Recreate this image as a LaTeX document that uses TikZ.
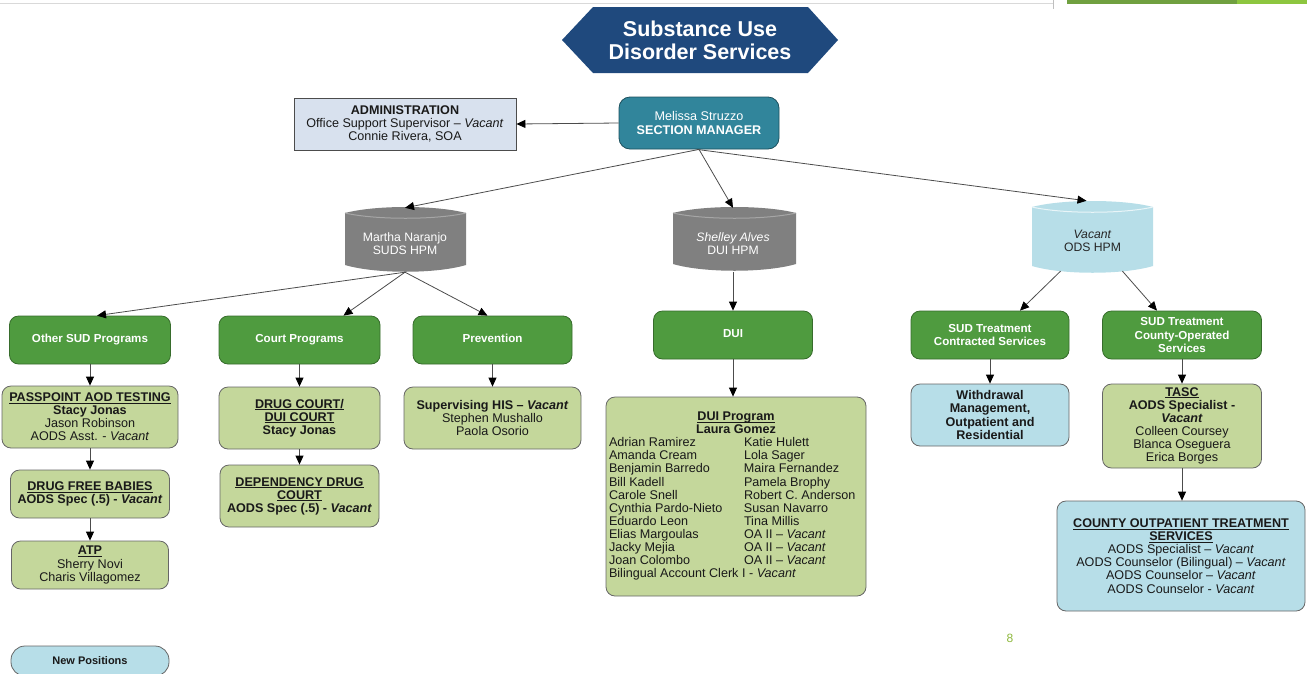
\documentclass[tikz,border=0pt]{standalone}
\usepackage{fontspec}
\setmainfont{Liberation Sans}
\usetikzlibrary{arrows.meta,calc}
\definecolor{navy}{RGB}{31,73,125}
\definecolor{mgrteal}{RGB}{49,133,155}
\definecolor{dkgreen}{RGB}{79,155,63}
\definecolor{ltgreen}{RGB}{196,215,155}
\definecolor{ltblue}{RGB}{183,222,232}
\definecolor{adminblue}{RGB}{216,225,238}
\definecolor{cylgray}{RGB}{128,128,128}
\definecolor{pagegreen}{RGB}{141,184,60}
\definecolor{bargreenA}{RGB}{112,160,64}
\definecolor{bargreenB}{RGB}{141,198,63}
\newcommand\myul[1]{\setbox0\hbox{#1}\rlap{\rule[-1.7pt]{\wd0}{0.7pt}}\box0}
\newcommand\cylshape[6]{%
  \fill[#5] (#1,#3) .. controls ({#1+(#2-#1)*0.25},{#3-8}) and ({#1+(#2-#1)*0.75},{#3-8}) .. (#2,#3)
     -- (#2,#4) .. controls ({#1+(#2-#1)*0.75},{#4+9}) and ({#1+(#2-#1)*0.25},{#4+9}) .. (#1,#4) -- cycle;
  \draw[#6, line width=1pt] (#1,#3) .. controls ({#1+(#2-#1)*0.25},{#3+7}) and ({#1+(#2-#1)*0.75},{#3+7}) .. (#2,#3);
}
\tikzset{
  box/.style={rectangle, rounded corners=9pt, draw=black!60, line width=0.8pt, align=center,
    inner sep=0pt, font=\fontsize{12.6}{13.1}\selectfont, text=black!90},
  gbox/.style={box, fill=dkgreen, draw=dkgreen!70!black, text=white,
    font=\bfseries\fontsize{11.6}{13.1}\selectfont, minimum width=159pt, minimum height=48pt},
  lgbox/.style={box, fill=ltgreen},
  lbbox/.style={box, fill=ltblue},
  cyltext/.style={align=center, inner sep=0pt, minimum width=120pt, minimum height=64pt,
    font=\fontsize{12.2}{13.2}\selectfont},
  arr/.style={draw=black!70, line width=0.8pt, -{Triangle[length=9pt,width=8pt,color=black]}},
}
\begin{document}
\begin{tikzpicture}[x=1pt,y=-1pt]
\useasboundingbox (0,0) rectangle (1307,673);
% top page decorations
\draw[black!15, line width=1pt] (0,3) -- (1053,3);
\draw[black!25, line width=0.8pt] (1053,0) -- (1053,9);
\fill[bargreenA] (1067,0) rectangle (1237,3.5);
\fill[bargreenB] (1237,0) rectangle (1307,3.5);
% title
\fill[navy] (562,40) -- (593,7) -- (808,7) -- (838,40) -- (808,73) -- (593,73) -- cycle;
\node[text=white, align=center, font=\bfseries\fontsize{21.5}{23}\selectfont] (title) at (700,40) {Substance Use\\Disorder Services};
% top level
\node[box, fill=adminblue, draw=black!70, rounded corners=0pt, minimum width=222pt, minimum height=52pt] (admin) at (405,124)
  {\textbf{ADMINISTRATION}\\Office Support Supervisor – \textit{Vacant}\\Connie Rivera, SOA};
\node[box, fill=mgrteal, draw=mgrteal!60!black, text=white, rounded corners=11pt, minimum width=160pt, minimum height=52pt] (mgr) at (699,123)
  {Melissa Struzzo\\\textbf{SECTION MANAGER}};
% cylinders
\cylshape{345}{466}{213}{265}{cylgray}{black!35}
\cylshape{673}{796}{213}{264}{cylgray}{black!35}
\cylshape{1032}{1153}{207}{266}{ltblue}{white!70!ltblue}
\node[cyltext, text=white] (martha) at (405,244) {Martha Naranjo\\SUDS HPM};
\node[cyltext, text=white] (shelley) at (733,244) {\textit{Shelley Alves}\\DUI HPM};
\node[cyltext, text=black!85] (vacant) at (1092.5,241) {\textit{Vacant}\\ODS HPM};
% level 3
\node[gbox, minimum width=161pt] (other) at (90,340) {Other SUD Programs};
\node[gbox, minimum width=161pt] (court) at (299.5,340) {Court Programs};
\node[gbox] (prev) at (492.5,340) {\strut Prevention};
\node[gbox] (dui) at (733,335) {\strut DUI};
\node[gbox, minimum width=158pt] (contr) at (990,335) {SUD Treatment\\Contracted Services};
\node[gbox] (county) at (1182,335) {SUD Treatment\\County-Operated\\Services};
% level 4
\node[lgbox, minimum width=176pt, minimum height=62pt] (pass) at (90,417)
  {\textbf{\myul{PASSPOINT AOD TESTING}}\\\textbf{Stacy Jonas}\\Jason Robinson\\AODS Asst. - \textit{Vacant}};
\node[lgbox, minimum width=159pt, minimum height=48pt] (dfb) at (90,494)
  {\textbf{\myul{DRUG FREE BABIES}}\\\textbf{AODS Spec (.5) - \textit{Vacant}}};
\node[lgbox, minimum width=157pt, minimum height=48pt] (atp) at (90,565)
  {\textbf{\myul{ATP}}\\Sherry Novi\\Charis Villagomez};
\node[lgbox, minimum width=161pt, minimum height=62pt] (dcourt) at (299.5,418)
  {\textbf{\myul{DRUG COURT/}}\\\textbf{\myul{DUI COURT}}\\\textbf{Stacy Jonas}};
\node[lgbox, minimum width=159pt, minimum height=62pt] (dep) at (299.5,496)
  {\textbf{\myul{DEPENDENCY DRUG}}\\\textbf{\myul{COURT}}\\\textbf{AODS Spec (.5) - \textit{Vacant}}};
\node[lgbox, minimum width=177pt, minimum height=62pt] (prevsub) at (492.5,418)
  {\textbf{Supervising HIS – \textit{Vacant}}\\Stephen Mushallo\\Paola Osorio};
\node[lgbox, minimum width=260pt, minimum height=199pt] (duiprog) at (736,496.5)
  {\begin{tabular}{@{}p{135pt}@{}p{119pt}@{}}
   \multicolumn{2}{@{}c@{}}{\textbf{\myul{DUI Program}}}\\
   \multicolumn{2}{@{}c@{}}{\textbf{Laura Gomez}}\\
   Adrian Ramirez & Katie Hulett\\
   Amanda Cream & Lola Sager\\
   Benjamin Barredo & Maira Fernandez\\
   Bill Kadell & Pamela Brophy\\
   Carole Snell & Robert C. Anderson\\
   Cynthia Pardo-Nieto & Susan Navarro\\
   Eduardo Leon & Tina Millis\\
   Elias Margoulas & OA II – \textit{Vacant}\\
   Jacky Mejia & OA II – \textit{Vacant}\\
   Joan Colombo & OA II – \textit{Vacant}\\
   \multicolumn{2}{@{}l@{}}{Bilingual Account Clerk I - \textit{Vacant}}
   \end{tabular}};
\node[lbbox, minimum width=158pt, minimum height=62pt] (withd) at (990,415)
  {\textbf{Withdrawal}\\\textbf{Management,}\\\textbf{Outpatient and}\\\textbf{Residential}};
\node[lgbox, minimum width=159pt, minimum height=84pt] (tasc) at (1182,426)
  {\textbf{\myul{TASC}}\\\textbf{AODS Specialist -}\\\textbf{\textit{Vacant}}\\Colleen Coursey\\Blanca Oseguera\\Erica Borges};
\node[lbbox, minimum width=248pt, minimum height=110pt] (cout) at (1181,556)
  {\textbf{\myul{COUNTY OUTPATIENT TREATMENT}}\\\textbf{\myul{SERVICES}}\\AODS Specialist – \textit{Vacant}\\AODS Counselor (Bilingual) – \textit{Vacant}\\AODS Counselor – \textit{Vacant}\\AODS Counselor - \textit{Vacant}};
% legend and page number
\node[lbbox, rounded corners=14pt, minimum width=158pt, minimum height=30pt, font=\bfseries\fontsize{11}{12}\selectfont] (legend) at (90,661) {New Positions};
\node[text=pagegreen, font=\fontsize{12}{12}\selectfont, inner sep=0pt] (pnum) at (1010,638) {8};
% connectors
\draw[arr] (mgr.west) -- (admin.east);
\draw[arr] (mgr.south) -- ([yshift=4pt]martha.north);
\draw[arr] (mgr.south) -- ([yshift=4pt]shelley.north);
\draw[arr] ([xshift=-2pt]mgr.south) -- ([xshift=-6pt,yshift=8pt]vacant.north);
\draw[arr] ([yshift=4pt]martha.south) -- ([xshift=7pt]other.north);
\draw[arr] ([yshift=4pt]martha.south) -- ([xshift=44pt]court.north);
\draw[arr] ([yshift=4pt]martha.south) -- ([xshift=-5pt]prev.north);
\draw[arr] ([yshift=4pt]shelley.south) -- (dui.north);
\draw[arr] ([xshift=-32pt,yshift=2pt]vacant.south) -- ([xshift=30pt]contr.north);
\draw[arr] ([xshift=30pt,yshift=2pt]vacant.south) -- ([xshift=-25pt]county.north);
\draw[arr] (other.south) -- (pass.north);
\draw[arr] (pass.south) -- (dfb.north);
\draw[arr] (dfb.south) -- (atp.north);
\draw[arr] (court.south) -- (dcourt.north);
\draw[arr] (dcourt.south) -- (dep.north);
\draw[arr] (prev.south) -- (prevsub.north);
\draw[arr] (dui.south) -- (dui.south |- duiprog.north);
\draw[arr] (contr.south) -- (withd.north);
\draw[arr] (county.south) -- (tasc.north);
\draw[arr] (tasc.south) -- (tasc.south |- cout.north);
\end{tikzpicture}
\end{document}
